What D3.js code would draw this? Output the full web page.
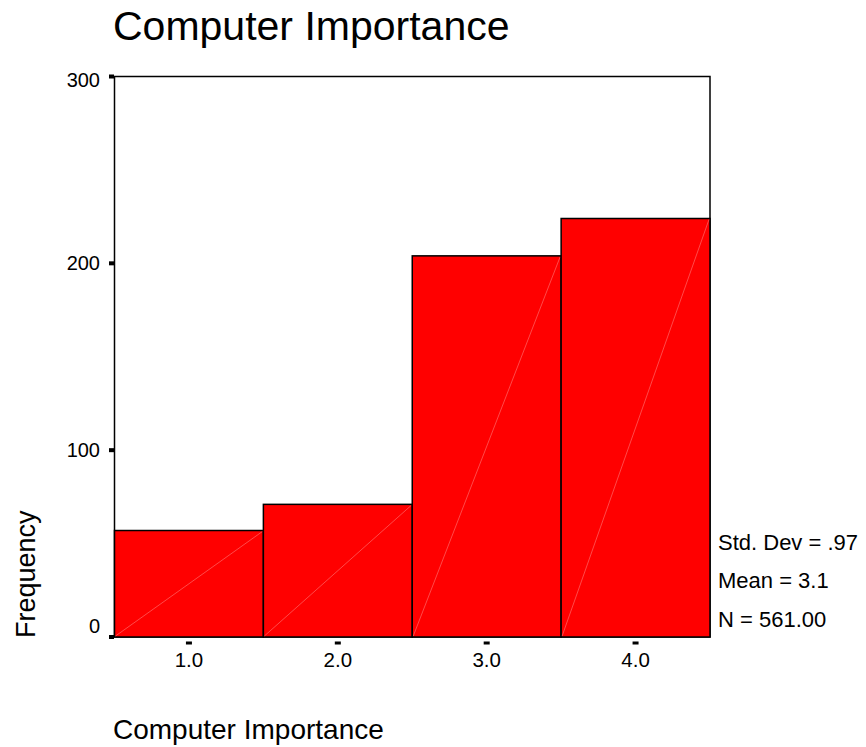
<!DOCTYPE html>
<html><head><meta charset="utf-8">
<script src="https://cdn.jsdelivr.net/npm/d3@7"></script>
<style>body{margin:0;background:#fff}svg{display:block}text{font-family:"Liberation Sans",Arial,sans-serif;fill:#000}</style>
</head><body><svg id="c" width="866" height="747"></svg>
<script>
const categories = [1, 2, 3, 4];
const frequencies = [57, 71, 204, 224];
const xTicks = ["1.0", "2.0", "3.0", "4.0"];
const yTicks = [0, 100, 200, 300];
const stats = ["Std. Dev = .97", "Mean = 3.1", "N = 561.00"];
const title = "Computer Importance";
const xTitle = "Computer Importance";
const yTitle = "Frequency";

const svg = d3.select("#c");
const L = 114.5, R = 710, T = 76.5, B = 637;
const x = d3.scaleLinear().domain([0.5, 4.5]).range([L, R]);
const y = d3.scaleLinear().domain([0, 300]).range([B, T]);

// frame
svg.append("rect").attr("x", L).attr("y", T).attr("width", R - L).attr("height", B - T)
  .attr("fill", "none").attr("stroke", "#000").attr("stroke-width", 1.5);

// bars
const g = svg.append("g");
categories.forEach((c, i) => {
  const x0 = x(c - 0.5), x1 = x(c + 0.5), yt = y(frequencies[i]);
  g.append("rect").attr("x", x0).attr("y", yt).attr("width", x1 - x0).attr("height", B - yt)
    .attr("fill", "#ff0000").attr("stroke", "#000").attr("stroke-width", 1.5);
  g.append("line").attr("x1", x0 + 1).attr("y1", B - 1).attr("x2", x1 - 1).attr("y2", yt + 1)
    .attr("stroke", "#ff7a7a").attr("stroke-width", 0.6);
});

// y ticks
yTicks.forEach(v => {
  svg.append("rect").attr("x", L - 5.5).attr("y", y(v) - 2).attr("width", 5).attr("height", 4).attr("fill", "#000");
  let yy = y(v) + 7;
  if (v === 0) yy = y(v) - 4;
  if (v === 300) yy = y(v) + 10;
  svg.append("text").attr("x", 100).attr("y", yy).attr("text-anchor", "end")
    .attr("font-size", 20).text(v);
});

// x ticks
categories.forEach((c, i) => {
  svg.append("rect").attr("x", x(c) - 3).attr("y", 641.5).attr("width", 6).attr("height", 3).attr("fill", "#000");
  svg.append("text").attr("x", x(c)).attr("y", 667).attr("text-anchor", "middle")
    .attr("font-size", 20.5).text(xTicks[i]);
});

// stats
const statY = [550, 588, 627];
stats.forEach((s, i) => {
  svg.append("text").attr("x", 718).attr("y", statY[i]).attr("font-size", 22).text(s);
});

// titles
svg.append("text").attr("x", 113).attr("y", 40).attr("font-size", 41).text(title);
svg.append("text").attr("x", 113).attr("y", 739).attr("font-size", 28).text(xTitle);
svg.append("text").attr("transform", "translate(35,638) rotate(-90)").attr("font-size", 27).text(yTitle);
</script></body></html>
